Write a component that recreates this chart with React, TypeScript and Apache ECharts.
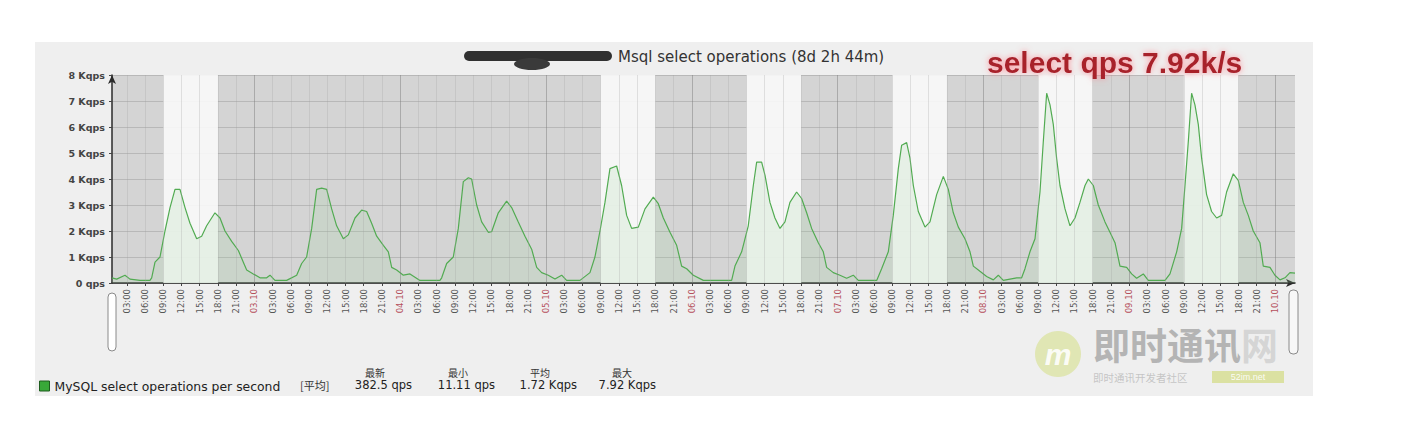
import React, { useEffect, useRef } from 'react';
import * as echarts from 'echarts';

const seriesName = 'MySQL select operations per second';
const titleText = 'Msql select operations (8d 2h 44m)';
const annotationText = 'select qps 7.92k/s';

// hours since 02.10 00:00
const hours = [
  0.56, 1.33, 2.7, 3.52, 5.17, 6.81, 7.09, 7.64, 8.46, 9.28, 10.11, 10.93, 11.75, 12.58, 13.4, 14.5,
  15.32, 16.14, 17.51, 18.34, 19.16, 20.26, 21.36, 22.18, 22.73, 23.82, 24.92, 26.02, 26.57, 27.39,
  29.31, 30.96, 31.78, 32.6, 33.43, 34.25, 35.07, 35.9, 36.72, 37.54, 38.64, 39.46, 40.56, 41.66,
  42.48, 43.3, 44.13, 45.23, 46.05, 46.6, 47.42, 48.52, 49.61, 51.26, 54.55, 54.83, 55.65, 56.74,
  57.57, 58.39, 59.22, 59.76, 60.59, 61.41, 62.51, 63.05, 64.15, 65.52, 66.35, 67.44, 68.54, 69.64,
  70.47, 71.29, 72.38, 73.48, 74.58, 75.4, 77.6, 79.24, 80.06, 80.89, 81.71, 82.53, 83.63, 84.45,
  85.28, 86.1, 87.2, 88.3, 89.67, 90.49, 91.32, 92.41, 93.51, 94.33, 95.16, 96.25, 97.9, 100.64,
  102.56, 103.11, 104.21, 105.3, 106.13, 106.68, 107.5, 108.05, 108.87, 109.69, 110.52, 111.34,
  112.16, 113.26, 114.08, 114.91, 115.73, 116.83, 117.65, 118.2, 119.3, 120.39, 121.49, 122.59,
  123.41, 126.44, 127.25, 128.35, 129.17, 130.0, 130.55, 131.37, 131.92, 132.47, 133.29, 134.39,
  135.21, 136.31, 137.41, 138.23, 139.05, 139.88, 140.97, 141.8, 142.35, 143.44, 144.54, 145.64,
  146.46, 147.28, 149.48, 150.3, 150.85, 151.67, 152.5, 153.32, 153.87, 154.42, 154.97, 155.51,
  156.06, 156.61, 157.44, 158.26, 159.08, 159.9, 160.73, 161.28, 162.1, 162.92, 164.02, 164.84,
  165.67, 166.49, 167.59, 168.41, 169.23, 170.33, 171.15, 173.9, 174.72, 175.82, 176.64, 177.19,
  177.74, 178.28, 178.83, 179.38, 179.93, 180.75, 181.57, 182.4, 183.22, 184.04, 185.14, 185.96,
  186.79, 187.61, 188.43, 189.53, 190.08, 191.18, 192.0, 192.83, 193.65, 194.47, 195.3,
];

// Kqps
const kqps = [
  0.2, 0.15, 0.3, 0.15, 0.1, 0.1, 0.2, 0.8, 1.0, 2.0, 2.9, 3.6, 3.6, 2.9, 2.3, 1.7,
  1.8, 2.2, 2.7, 2.5, 2.0, 1.6, 1.25, 0.8, 0.5, 0.35, 0.2, 0.2, 0.3, 0.1,
  0.1, 0.3, 0.75, 1.0, 2.1, 3.6, 3.65, 3.6, 2.85, 2.2, 1.7, 1.85, 2.5, 2.8,
  2.75, 2.3, 1.8, 1.45, 1.2, 0.6, 0.5, 0.3, 0.35, 0.1, 0.1, 0.2, 0.75, 1.0,
  2.1, 3.9, 4.05, 4.0, 3.0, 2.35, 1.95, 1.97, 2.7, 3.15, 2.9, 2.35, 1.8, 1.3,
  0.6, 0.4, 0.3, 0.15, 0.3, 0.1, 0.1, 0.4, 1.0, 2.0, 3.1, 4.4, 4.5, 3.75,
  2.6, 2.1, 2.15, 2.85, 3.3, 3.05, 2.5, 1.95, 1.45, 0.65, 0.55, 0.3, 0.1, 0.1,
  0.1, 0.65, 1.2, 2.2, 3.75, 4.65, 4.65, 4.15, 3.1, 2.5, 2.1, 2.35,
  3.1, 3.5, 3.25, 2.7, 2.1, 1.55, 1.2, 0.6, 0.4, 0.3, 0.18, 0.3,
  0.1, 0.1, 0.55, 1.2, 2.6, 4.4, 5.3, 5.4, 4.8, 3.75, 2.75, 2.15,
  2.35, 3.4, 4.1, 3.6, 2.7, 2.15, 1.7, 1.2, 0.65, 0.45, 0.25, 0.12,
  0.3, 0.1, 0.2, 0.2, 0.55, 1.2, 1.7, 3.5, 5.45, 7.3, 6.85, 6.1,
  4.8, 3.75, 2.85, 2.2, 2.5, 3.1, 3.75, 4.0, 3.75, 3.0, 2.35, 1.95,
  1.55, 0.65, 0.6, 0.35, 0.18, 0.35, 0.1, 0.1, 0.35, 1.2, 2.1, 3.75,
  5.45, 7.3, 6.85, 6.1, 4.8, 3.4, 2.75, 2.5, 2.6, 3.5, 4.2, 3.95,
  3.1, 2.6, 2.0, 1.55, 0.65, 0.6, 0.3, 0.12, 0.2, 0.4, 0.38,
];

// one label every 3 hours, starting at 03:00 on 02.10
const xTickLabels = [
  '03:00', '06:00', '09:00', '12:00', '15:00', '18:00', '21:00', '03.10',
  '03:00', '06:00', '09:00', '12:00', '15:00', '18:00', '21:00', '04.10',
  '03:00', '06:00', '09:00', '12:00', '15:00', '18:00', '21:00', '05.10',
  '03:00', '06:00', '09:00', '12:00', '15:00', '18:00', '21:00', '06.10',
  '03:00', '06:00', '09:00', '12:00', '15:00', '18:00', '21:00', '07.10',
  '03:00', '06:00', '09:00', '12:00', '15:00', '18:00', '21:00', '08.10',
  '03:00', '06:00', '09:00', '12:00', '15:00', '18:00', '21:00', '09.10',
  '03:00', '06:00', '09:00', '12:00', '15:00', '18:00', '21:00', '10.10',
];
const yTickLabels = ['0 qps', '1 Kqps', '2 Kqps', '3 Kqps', '4 Kqps', '5 Kqps', '6 Kqps', '7 Kqps', '8 Kqps'];

// day index (0 = 02.10) that has white working hours 09:00-18:00
const workDays = [0, 3, 4, 5, 6, 7];
const workStart = 9;
const workEnd = 18;

const legendFunc = '[平均]';
const legendHeaders = ['最新', '最小', '平均', '最大'];
const legendValues = ['382.5 qps', '11.11 qps', '1.72 Kqps', '7.92 Kqps'];

const FONT = 'DejaVu Sans';
const CJK = 'Noto Sans CJK SC';

export default function App() {
  const ref = useRef<HTMLDivElement>(null);

  useEffect(() => {
    if (!ref.current) return;
    const chart = echarts.init(ref.current, null, { renderer: 'svg' });
    const tickHours = xTickLabels.map((_, i) => (i + 1) * 3);
    const isDate = (v: number) => Math.round(v) % 24 === 0;

    const headerX = [375, 458, 540, 622];
    const valueRight = [412, 495, 577, 656];

    const option: any = {
      animation: false,
      grid: {
        left: 112,
        right: 113,
        top: 75,
        bottom: 156,
        show: true,
        backgroundColor: '#d4d4d4',
        borderWidth: 0,
      },
      legend: {
        data: [{ name: seriesName, icon: 'rect' }],
        left: 39,
        top: 380,
        itemWidth: 10,
        itemHeight: 10,
        itemStyle: { color: '#38a838', borderColor: '#1d5c1d', borderWidth: 1 },
        textStyle: { fontSize: 12.4, color: '#222', fontFamily: FONT },
        selectedMode: false,
        padding: 0,
      },
      xAxis: {
        type: 'value',
        min: hours[0],
        max: hours[hours.length - 1],
        axisLine: {
          show: true,
          lineStyle: { color: '#2a2a2a', width: 1.5 },
          symbol: ['none', 'arrow'],
          symbolSize: [6, 9],
        },
        axisTick: { show: true, customValues: tickHours, length: 3, lineStyle: { color: '#444' } },
        splitLine: { show: false },
        axisLabel: {
          customValues: tickHours,
          rotate: 90,
          margin: 6,
          fontSize: 8.5,
          fontFamily: FONT,
          color: (v: any) => (isDate(Number(v)) ? '#b5505c' : '#555'),
          formatter: (v: number) => xTickLabels[Math.round(v / 3) - 1] ?? '',
        },
      },
      yAxis: {
        type: 'value',
        min: 0,
        max: 8,
        interval: 1,
        axisLine: {
          show: true,
          lineStyle: { color: '#2a2a2a', width: 1.5 },
          symbol: ['none', 'arrow'],
          symbolSize: [6, 9],
        },
        axisTick: { show: true, length: 3, lineStyle: { color: '#444' } },
        splitLine: { show: true, lineStyle: { color: '#b8b8b8', width: 1 } },
        axisLabel: {
          margin: 7,
          fontSize: 9.5,
          fontWeight: 'bold',
          fontFamily: FONT,
          color: '#444',
          formatter: (v: number) => yTickLabels[Math.round(v)] ?? '',
        },
      },
      series: [
        {
          name: 'bands',
          type: 'line',
          data: [],
          z: 1,
          silent: true,
          markArea: {
            silent: true,
            itemStyle: { color: 'rgba(250,250,250,0.9)' },
            label: { show: false },
            data: workDays.map((d) => [{ xAxis: d * 24 + workStart }, { xAxis: d * 24 + workEnd }]),
          },
          markLine: {
            silent: true,
            symbol: ['none', 'none'],
            label: { show: false },
            lineStyle: { type: 'solid', width: 1 },
            data: tickHours.map((h) => ({
              xAxis: h,
              lineStyle: {
                color: isDate(h) ? 'rgba(120,120,120,0.45)' : 'rgba(160,160,160,0.28)',
                type: 'solid',
                width: 1,
              },
            })),
          },
        },
        {
          name: seriesName,
          type: 'line',
          z: 3,
          data: hours.map((h, i) => [h, kqps[i]]),
          showSymbol: false,
          symbol: 'none',
          itemStyle: { color: '#38a838' },
          lineStyle: { color: '#52ab52', width: 1.2 },
          areaStyle: { color: 'rgba(160,215,160,0.25)' },
        },
      ],
      graphic: [
        // redacted host name scribble
        {
          type: 'rect',
          shape: { x: 464, y: 51, width: 148, height: 10, r: 5 },
          style: { fill: '#303030' },
          z: 100,
        },
        {
          type: 'ellipse',
          shape: { cx: 532, cy: 64, rx: 18, ry: 6 },
          style: { fill: '#3a3a3a' },
          z: 100,
        },
        {
          type: 'text',
          x: 618,
          y: 57,
          style: {
            text: titleText,
            fill: '#333',
            font: `15px "${FONT}"`,
            verticalAlign: 'middle',
          },
          z: 100,
        },
        {
          type: 'text',
          x: 987,
          y: 62,
          style: {
            text: annotationText,
            fill: '#a8202c',
            font: 'bold 30px "Liberation Sans"',
            verticalAlign: 'middle',
            textShadowColor: 'rgba(255,130,140,0.9)',
            textShadowBlur: 6,
          },
          z: 100,
        },
        // start / end time brackets under the axis
        {
          type: 'rect',
          shape: { x: 108, y: 293, width: 8, height: 58, r: 4 },
          style: { fill: '#ffffff', stroke: '#8a8a8a', lineWidth: 1 },
          z: 100,
        },
        {
          type: 'rect',
          shape: { x: 1289, y: 290, width: 9, height: 64, r: 4 },
          style: { fill: '#f7f7f7', stroke: '#8a8a8a', lineWidth: 1 },
          z: 100,
        },
        // legend statistics
        {
          type: 'text',
          x: 300,
          y: 385,
          style: { text: legendFunc, fill: '#333', font: `11px "${CJK}"`, verticalAlign: 'middle' },
          z: 100,
        },
        ...legendHeaders.map((t, i) => ({
          type: 'text',
          x: headerX[i],
          y: 372,
          style: { text: t, fill: '#333', font: `10px "${CJK}"`, align: 'center', verticalAlign: 'middle' },
          z: 100,
        })),
        ...legendValues.map((t, i) => ({
          type: 'text',
          x: valueRight[i],
          y: 385,
          style: { text: t, fill: '#222', font: `11.5px "${FONT}"`, align: 'right', verticalAlign: 'middle' },
          z: 100,
        })),
        // watermark
        {
          type: 'circle',
          shape: { cx: 1058, cy: 354, r: 23 },
          style: { fill: 'rgba(214,224,140,0.6)' },
          z: 100,
        },
        {
          type: 'text',
          x: 1058,
          y: 354,
          style: {
            text: 'm',
            fill: 'rgba(255,255,255,0.9)',
            font: 'italic bold 30px "Liberation Sans"',
            align: 'center',
            verticalAlign: 'middle',
          },
          z: 101,
        },
        {
          type: 'text',
          x: 1093,
          y: 344,
          style: {
            text: '{a|即时通讯}{b|网}',
            verticalAlign: 'middle',
            rich: {
              a: { fill: 'rgba(140,140,140,0.6)', font: `bold 37px "${CJK}"`, lineHeight: 38 },
              b: { fill: 'rgba(170,170,170,0.4)', font: `bold 37px "${CJK}"`, lineHeight: 38 },
            },
          },
          z: 100,
        },
        {
          type: 'text',
          x: 1093,
          y: 377,
          style: {
            text: '即时通讯开发者社区',
            fill: 'rgba(160,160,160,0.55)',
            font: `10.5px "${CJK}"`,
            verticalAlign: 'middle',
          },
          z: 100,
        },
        {
          type: 'rect',
          shape: { x: 1212, y: 371, width: 72, height: 12 },
          style: { fill: 'rgba(205,215,110,0.6)' },
          z: 100,
        },
        {
          type: 'text',
          x: 1248,
          y: 377,
          style: {
            text: '52im.net',
            fill: 'rgba(255,255,255,0.9)',
            font: '9px "Liberation Sans"',
            align: 'center',
            verticalAlign: 'middle',
          },
          z: 101,
        },
      ],
    };

    chart.setOption(option);
    return () => chart.dispose();
  }, []);

  return (
    <div style={{ position: 'fixed', left: 0, top: 0, width: 1408, height: 439, background: '#ffffff' }}>
      <div
        style={{ position: 'absolute', left: 35, top: 42, width: 1278, height: 354, background: '#efefef' }}
      />
      <div ref={ref} style={{ position: 'absolute', left: 0, top: 0, width: 1408, height: 439 }} />
    </div>
  );
}
